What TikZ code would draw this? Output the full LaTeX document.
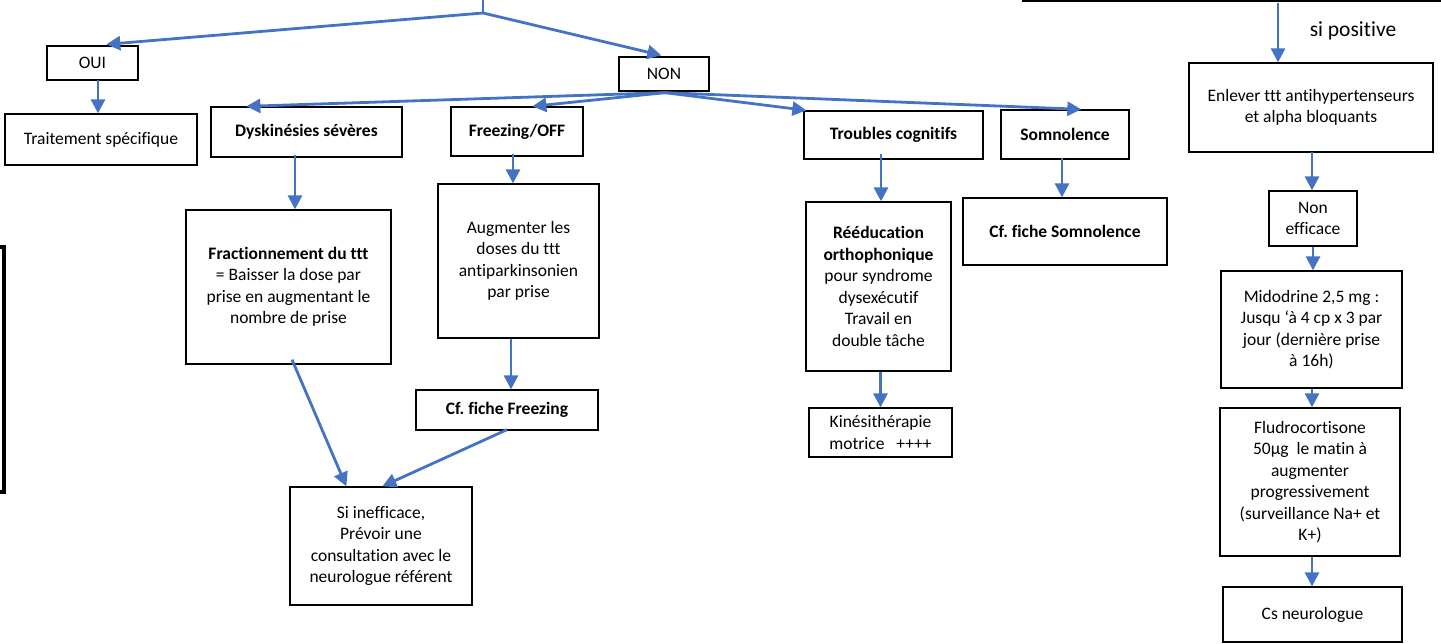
\documentclass[tikz,border=0pt]{standalone}
\usepackage{fontspec}
\setmainfont{Carlito}[Ligatures=NoCommon]
\usetikzlibrary{arrows.meta,calc}
\definecolor{arrblue}{HTML}{4472C4}
\newcommand\bodyfs{\fontsize{17.5}{21.5}\selectfont}
\frenchspacing
\tikzset{
  box/.style={draw=black, line width=1.3pt, align=center, inner sep=0pt, font=\bodyfs},
  arr/.style={draw=arrblue, line width=2.8pt, -{Triangle[length=14pt,width=14pt]}},
  bline/.style={draw=arrblue, line width=2.8pt},
}
\begin{document}
\begin{tikzpicture}[x=1pt,y=-1pt]
\useasboundingbox (0,0) rectangle (1441,643);
\begin{scope}
\clip (0,0) rectangle (1441,643);
% partially visible boxes
\node[box, line width=4pt, minimum width=68pt, minimum height=245pt] (leftbox) at (-30,369.5) {};
\node[box, minimum width=434pt, minimum height=82pt] (topbox) at (1240,-40) {};
\end{scope}

\node[box, minimum width=91pt, minimum height=34pt] (oui) at (92.5,63) {OUI};
\node[box, minimum width=192pt, minimum height=51pt] (trait) at (101,139.5) {Traitement spécifique};
\node[box, minimum width=90pt, minimum height=34pt] (non) at (664,74) {NON};
\node[box, minimum width=191pt, minimum height=50pt] (dys) at (306.5,132) {\textbf{Dyskinésies sévères}};
\node[box, minimum width=132pt, minimum height=49pt] (frz) at (517,131.5) {\textbf{Freezing/OFF}};
\node[box, minimum width=179pt, minimum height=48pt] (trb) at (893.5,135) {\textbf{Troubles cognitifs}};
\node[box, minimum width=128pt, minimum height=49pt] (som) at (1065,134.5) {\textbf{Somnolence}};
\node[box, minimum width=244pt, minimum height=89pt] (enl) at (1311,107.5) {Enlever ttt antihypertenseurs\\et alpha bloquants};
\node[box, minimum width=205pt, minimum height=154pt] (frac) at (288.5,287) {\textbf{Fractionnement du ttt}\\= Baisser la dose par\\prise en augmentant le\\nombre de prise};
\node[box, minimum width=161pt, minimum height=154pt] (aug) at (518.5,261) {Augmenter les\\doses du ttt\\antiparkinsonien\\par prise};
\node[box, minimum width=182pt, minimum height=40pt] (cff) at (507,410) {\textbf{Cf. fiche Freezing}};
\node[box, minimum width=182pt, minimum height=118pt] (si) at (381,546) {Si inefficace,\\Prévoir une\\consultation avec le\\neurologue référent};
\node[box, minimum width=145pt, minimum height=169pt] (reed) at (878.5,286.5) {\textbf{Rééducation}\\\textbf{orthophonique}\\pour syndrome\\dysexécutif\\Travail en\\double tâche};
\node[box, minimum width=204pt, minimum height=67pt] (cfs) at (1065,231.5) {\textbf{Cf. fiche Somnolence}};
\node[box, minimum width=143pt, minimum height=49pt] (kine) at (880.5,432.5) {Kinésithérapie\\motrice\ \ \ ++++};
\node[box, minimum width=88pt, minimum height=55pt] (noneff) at (1313,218.5) {Non\\efficace};
\node[box, minimum width=181pt, minimum height=117pt] (mido) at (1311.5,329.5) {Midodrine 2,5 mg :\\Jusqu ‘à 4 cp x 3 par\\jour (dernière prise\\à 16h)};
\node[box, minimum width=180pt, minimum height=148pt] (flu) at (1310,482) {Fludrocortisone\\50µg\ \ le matin à\\augmenter\\progressivement\\(surveillance Na+ et\\K+)};
\node[box, minimum width=179pt, minimum height=55pt] (cs) at (1312.5,614.5) {Cs neurologue};
\node[font=\fontsize{21.5}{25}\selectfont, inner sep=0pt] (sipos) at (1353,31) {si positive};

% top split
\coordinate (topin) at (483,0);
\coordinate (apex) at (483,13);
\draw[bline] (topin) -- (apex);
\draw[arr] (apex) -- ($(oui.north west)+(60,-1)$);
\draw[arr] (apex) -- ($(non.north west)+(43,-1)$);
\draw[arr] ($(oui.south)+(5.5,-1)$) coordinate (o1) -- (o1 |- trait.north);

% from NON
\coordinate (ns) at ($(non.south)+(1,1)$);
\draw[arr] (ns) -- ($(dys.north west)+(36,0)$);
\draw[arr] (ns) -- ($(frz.north west)+(82,0)$);
\draw[arr] (ns) -- ($(trb.north west)+(3,0)$);
\draw[arr] (ns) -- ($(som.north west)+(81,0)$);

% left branch
\draw[arr] ($(dys.south)+(-11.5,-3)$) coordinate (d1) -- (d1 |- frac.north);
\draw[arr] ($(frz.south)+(-4,-3)$) coordinate (f1) -- (f1 |- aug.north);
\draw[arr] ($(aug.south)+(-7.5,0)$) coordinate (a1) -- (a1 |- cff.north);
\draw[arr] ($(frac.south)+(3.5,-5)$) -- ($(si.north west)+(57,0)$);
\draw[arr] ($(cff.south)+(0,-1)$) -- ($(si.north west)+(93,0)$);

% middle
\draw[arr] ($(trb.south)+(-12.5,-6)$) coordinate (t1) -- (t1 |- reed.north);
\draw[arr] ($(som.south)+(-3,-2)$) coordinate (s1) -- (s1 |- cfs.north);
\draw[arr] ($(reed.south)+(2,0)$) coordinate (r1) -- (r1 |- kine.north);

% right column
\coordinate (tb) at (1278,3);
\draw[arr] (tb) -- (tb |- enl.north);
\draw[arr] ($(enl.south)+(1,-1)$) coordinate (e1) -- (e1 |- noneff.north);
\draw[arr] ($(noneff.south)+(0,0)$) coordinate (n1) -- (n1 |- mido.north);
\draw[arr] ($(mido.south)+(0.5,0)$) coordinate (m1) -- (m1 |- flu.north);
\draw[arr] ($(flu.south)+(2,0)$) coordinate (fl1) -- (fl1 |- cs.north);
\end{tikzpicture}
\end{document}
